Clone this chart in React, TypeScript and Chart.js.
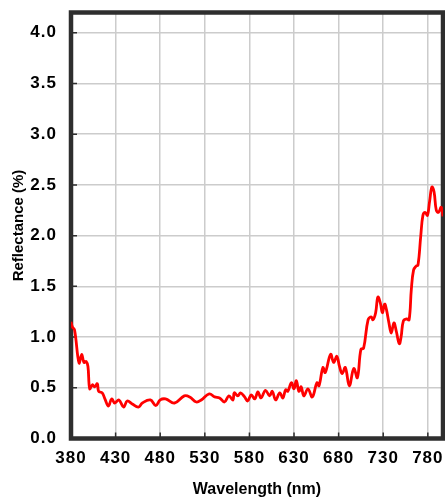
import React, { useEffect, useRef } from "react";
import { Chart, registerables } from "chart.js";

Chart.register(...registerables);

const wavelengths: number[] = [
  380, 381.5, 384, 389, 392, 394.5, 397, 399, 401, 404, 406.5, 409.5, 411, 415, 418, 422, 425.5, 429, 433.7, 439,
  443, 448.7, 455.5, 460, 469, 475, 480, 486, 496, 507, 513, 520.5, 526, 535, 541, 546.6, 552, 557, 561.5, 563,
  567, 570, 574.6, 578, 582, 586, 589.5, 593, 598, 602.6, 605.7, 609.4, 614, 617.5, 620.6, 623, 627, 630, 632.6,
  635.5, 638, 641, 645.6, 650.5, 655.7, 658, 662.4, 665, 671, 674.4, 678, 681, 684, 687.5, 692, 697, 701, 705,
  708, 713, 716.6, 718.5, 721.5, 724, 726.8, 729, 731.6, 733.5, 736.4, 739, 742, 744.7, 748, 750, 752.6, 756.3,
  759, 761.5, 764, 767, 769, 772, 774.5, 777, 779.5, 782, 784.6, 787, 789.5, 792, 795, 797,
];

const reflectance: number[] = [
  1.15, 1.1, 1.07, 0.745, 0.83, 0.75, 0.76, 0.71, 0.49, 0.53, 0.51, 0.54, 0.465, 0.45, 0.39, 0.32, 0.39, 0.35, 0.38, 0.31,
  0.37, 0.34, 0.31, 0.35, 0.38, 0.325, 0.38, 0.39, 0.35, 0.42, 0.41, 0.36, 0.38, 0.44, 0.41, 0.4, 0.36, 0.42, 0.38, 0.45,
  0.42, 0.45, 0.41, 0.37, 0.43, 0.39, 0.46, 0.4, 0.475, 0.42, 0.465, 0.38, 0.45, 0.4, 0.48, 0.465, 0.55, 0.49, 0.57,
  0.465, 0.51, 0.42, 0.49, 0.41, 0.55, 0.52, 0.7, 0.65, 0.83, 0.75, 0.81, 0.71, 0.64, 0.7, 0.52, 0.69, 0.6, 0.88,
  0.89, 1.17, 1.2, 1.17, 1.24, 1.395, 1.335, 1.24, 1.325, 1.275, 1.14, 1.04, 1.14, 1.055, 0.935, 1.0, 1.16, 1.18,
  1.17, 1.47, 1.66, 1.7, 1.71, 1.99, 2.2, 2.23, 2.2, 2.34, 2.48, 2.43, 2.25, 2.23, 2.28, 2.19,
];

const xTicks: number[] = [380, 430, 480, 530, 580, 630, 680, 730, 780];
const yTicks: number[] = [0, 0.5, 1.0, 1.5, 2.0, 2.5, 3.0, 3.5, 4.0];

const frameColor = "#2e2e2e";
const fontFamily = "'Liberation Sans', Arial, sans-serif";

const framePlugin = {
  id: "frame",
  beforeDatasetsDraw(chart: any) {
    const { ctx, chartArea } = chart;
    const { left, right, top, bottom } = chartArea;
    const xs = chart.scales.x;
    const ys = chart.scales.y;
    ctx.save();
    ctx.strokeStyle = frameColor;
    ctx.lineWidth = 1.5;
    ctx.beginPath();
    for (const v of xTicks) {
      const px = xs.getPixelForValue(v);
      ctx.moveTo(px, bottom);
      ctx.lineTo(px, bottom - 6);
    }
    for (const v of yTicks) {
      const py = ys.getPixelForValue(v);
      ctx.moveTo(left, py);
      ctx.lineTo(left + 6, py);
    }
    ctx.stroke();
    ctx.lineWidth = 4.5;
    ctx.strokeRect(left, top, right - left, bottom - top);
    ctx.restore();
  },
  afterDatasetsDraw(chart: any) {
    chart.ctx.letterSpacing = "1px";
  },
  afterDraw(chart: any) {
    chart.ctx.letterSpacing = "0px";
  },
};

export default function App() {
  const canvasRef = useRef<HTMLCanvasElement | null>(null);

  useEffect(() => {
    document.body.style.margin = "0";
    const canvas = canvasRef.current;
    if (!canvas) return;
    const chart = new Chart(canvas, {
      type: "line",
      data: {
        datasets: [
          {
            data: wavelengths.map((w, i) => ({ x: w, y: reflectance[i] })),
            borderColor: "#ff0000",
            borderWidth: 2.8,
            pointRadius: 0,
            tension: 0.4,
            fill: false,
          },
        ],
      },
      options: {
        animation: false,
        responsive: false,
        maintainAspectRatio: false,
        layout: { padding: { top: 12.5, right: 2, left: 0, bottom: 0 } },
        plugins: { legend: { display: false }, tooltip: { enabled: false } },
        scales: {
          x: {
            type: "linear",
            min: 380,
            max: 797,
            afterBuildTicks: (scale: any) => {
              scale.ticks = xTicks.map((v) => ({ value: v }));
            },
            afterFit: (scale: any) => {
              scale.height = 58.5;
              scale.paddingLeft = 0;
              scale.paddingRight = 0;
            },
            grid: { color: "#cccccc", lineWidth: 1.5, drawTicks: false },
            border: { display: false },
            ticks: {
              z: 1,
              color: "#000",
              padding: 10,
              maxRotation: 0,
              autoSkip: false,
              font: { family: fontFamily, size: 17, weight: "bold" },
              callback: (v: any) => String(v),
            },
            title: {
              display: true,
              text: "Wavelength (nm)",
              color: "#000",
              padding: { top: 0, bottom: -2 },
              font: { family: fontFamily, size: 16, weight: "bold" },
            },
          },
          y: {
            type: "linear",
            min: 0,
            max: 4.2,
            afterBuildTicks: (scale: any) => {
              scale.ticks = yTicks.map((v) => ({ value: v }));
            },
            afterFit: (scale: any) => {
              scale.width = 71;
              scale.paddingTop = 0;
              scale.paddingBottom = 0;
            },
            grid: { color: "#cccccc", lineWidth: 1.5, drawTicks: false },
            border: { display: false },
            ticks: {
              z: 1,
              color: "#000",
              padding: 14,
              autoSkip: false,
              font: { family: fontFamily, size: 17, weight: "bold" },
              callback: (v: any) => Number(v).toFixed(1),
            },
            title: {
              display: true,
              text: "Reflectance (%)",
              color: "#000",
              padding: { top: 10, bottom: 0 },
              font: { family: fontFamily, size: 15, weight: "bold" },
            },
          },
        },
      },
      plugins: [framePlugin],
    });
    return () => chart.destroy();
  }, []);

  return (
    <div style={{ position: "absolute", left: 0, top: 0, width: 445, height: 497 }}>
      <canvas ref={canvasRef} width={445} height={497} style={{ width: 445, height: 497 }} />
    </div>
  );
}
